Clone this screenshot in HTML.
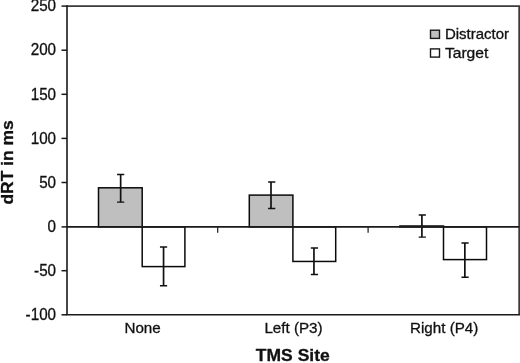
<!DOCTYPE html>
<html><head><meta charset="utf-8"><title>Chart</title>
<style>
html,body{margin:0;padding:0;background:#fff;}
svg{display:block;font-family:"Liberation Sans",sans-serif;}
text{fill:#111;stroke:#111;stroke-width:0.3px;}
</style></head><body>
<svg width="520" height="363" viewBox="0 0 520 363">
<rect x="0" y="0" width="520" height="363" fill="#fff" stroke="none"/>
<path d="M67.0 6.1H519.15V314.8" fill="none" stroke="#3a3a3a" stroke-width="1.7"/>
<path d="M67.0 5.25V314.8H520.0" fill="none" stroke="#1a1a1a" stroke-width="1.6"/>
<line x1="61.5" y1="314.80" x2="67.0" y2="314.80" stroke="#1a1a1a" stroke-width="1.5"/>
<text x="56.1" y="320.10" text-anchor="end" font-size="15.6" transform="translate(56.1 0) scale(0.976 1) translate(-56.1 0)">-100</text>
<line x1="61.5" y1="270.70" x2="67.0" y2="270.70" stroke="#1a1a1a" stroke-width="1.5"/>
<text x="56.1" y="276.00" text-anchor="end" font-size="15.6" transform="translate(56.1 0) scale(0.976 1) translate(-56.1 0)">-50</text>
<line x1="61.5" y1="226.90" x2="67.0" y2="226.90" stroke="#1a1a1a" stroke-width="1.5"/>
<text x="56.1" y="232.20" text-anchor="end" font-size="15.6" transform="translate(56.1 0) scale(0.976 1) translate(-56.1 0)">0</text>
<line x1="61.5" y1="182.50" x2="67.0" y2="182.50" stroke="#1a1a1a" stroke-width="1.5"/>
<text x="56.1" y="187.80" text-anchor="end" font-size="15.6" transform="translate(56.1 0) scale(0.976 1) translate(-56.1 0)">50</text>
<line x1="61.5" y1="138.40" x2="67.0" y2="138.40" stroke="#1a1a1a" stroke-width="1.5"/>
<text x="56.1" y="143.70" text-anchor="end" font-size="15.6" transform="translate(56.1 0) scale(0.976 1) translate(-56.1 0)">100</text>
<line x1="61.5" y1="94.30" x2="67.0" y2="94.30" stroke="#1a1a1a" stroke-width="1.5"/>
<text x="56.1" y="99.60" text-anchor="end" font-size="15.6" transform="translate(56.1 0) scale(0.976 1) translate(-56.1 0)">150</text>
<line x1="61.5" y1="50.20" x2="67.0" y2="50.20" stroke="#1a1a1a" stroke-width="1.5"/>
<text x="56.1" y="55.50" text-anchor="end" font-size="15.6" transform="translate(56.1 0) scale(0.976 1) translate(-56.1 0)">200</text>
<line x1="61.5" y1="6.10" x2="67.0" y2="6.10" stroke="#1a1a1a" stroke-width="1.5"/>
<text x="56.1" y="10.80" text-anchor="end" font-size="15.6" transform="translate(56.1 0) scale(0.976 1) translate(-56.1 0)">250</text>
<rect x="98.50" y="187.80" width="43.70" height="39.10" fill="#bfbfbf" stroke="#0a0a0a" stroke-width="1.5"/>
<rect x="142.20" y="226.90" width="42.70" height="39.70" fill="#fff" stroke="#0a0a0a" stroke-width="1.5"/>
<rect x="249.30" y="195.10" width="43.60" height="31.80" fill="#bfbfbf" stroke="#0a0a0a" stroke-width="1.5"/>
<rect x="292.90" y="226.90" width="42.80" height="34.55" fill="#fff" stroke="#0a0a0a" stroke-width="1.5"/>
<rect x="399.90" y="226.00" width="43.60" height="0.90" fill="#bfbfbf" stroke="#0a0a0a" stroke-width="1.5"/>
<rect x="443.50" y="226.90" width="43.00" height="32.70" fill="#fff" stroke="#0a0a0a" stroke-width="1.5"/>
<path d="M117.05 174.45H124.25M117.05 202.10H124.25" fill="none" stroke="#111" stroke-width="1.45"/>
<path d="M120.65 174.45V202.10" fill="none" stroke="#111" stroke-width="1.7"/>
<path d="M159.95 247.05H167.15M159.95 285.70H167.15" fill="none" stroke="#111" stroke-width="1.45"/>
<path d="M163.55 247.05V285.70" fill="none" stroke="#111" stroke-width="1.7"/>
<path d="M268.10 181.95H275.30M268.10 208.50H275.30" fill="none" stroke="#111" stroke-width="1.45"/>
<path d="M271.00 181.95V208.50" fill="none" stroke="#111" stroke-width="1.7"/>
<path d="M310.85 247.90H318.05M310.85 274.50H318.05" fill="none" stroke="#111" stroke-width="1.45"/>
<path d="M313.95 247.90V274.50" fill="none" stroke="#111" stroke-width="1.7"/>
<path d="M418.70 215.05H425.90M418.70 237.10H425.90" fill="none" stroke="#111" stroke-width="1.45"/>
<path d="M421.90 215.05V237.10" fill="none" stroke="#111" stroke-width="1.7"/>
<path d="M461.45 242.95H468.65M461.45 277.20H468.65" fill="none" stroke="#111" stroke-width="1.45"/>
<path d="M464.85 242.95V277.20" fill="none" stroke="#111" stroke-width="1.7"/>
<line x1="67.0" y1="226.90" x2="519.15" y2="226.90" stroke="#1a1a1a" stroke-width="1.7"/>
<line x1="217.7" y1="226.90" x2="217.7" y2="232.70" stroke="#1a1a1a" stroke-width="1.2"/>
<line x1="368.1" y1="226.90" x2="368.1" y2="232.70" stroke="#1a1a1a" stroke-width="1.2"/>
<text x="142.6" y="332.8" text-anchor="middle" font-size="15" transform="translate(142.6 0) scale(1.012 1) translate(-142.6 0)">None</text>
<text x="293.5" y="332.8" text-anchor="middle" font-size="15" transform="translate(293.5 0) scale(1.012 1) translate(-293.5 0)">Left (P3)</text>
<text x="444.2" y="332.8" text-anchor="middle" font-size="15" transform="translate(444.2 0) scale(1.012 1) translate(-444.2 0)">Right (P4)</text>
<text x="292.8" y="361" text-anchor="middle" font-size="16.5" font-weight="bold" transform="translate(292.8 0) scale(1.06 1) translate(-292.8 0)">TMS Site</text>
<text transform="translate(13.2,162.4) rotate(-90) scale(1.058 1)" text-anchor="middle" font-size="16.5" font-weight="bold">dRT in ms</text>
<rect x="430.5" y="30.2" width="9.0" height="8.2" fill="#bfbfbf" stroke="#1a1a1a" stroke-width="1.4"/>
<rect x="430.5" y="48.9" width="9.0" height="8.2" fill="#fff" stroke="#1a1a1a" stroke-width="1.4"/>
<text x="444.9" y="38.9" font-size="14.3" transform="translate(444.9 0) scale(1.05 1) translate(-444.9 0)">Distractor</text>
<text x="444.9" y="58.4" font-size="14.3" transform="translate(444.9 0) scale(1.095 1) translate(-444.9 0)">Target</text>
</svg>
</body></html>
